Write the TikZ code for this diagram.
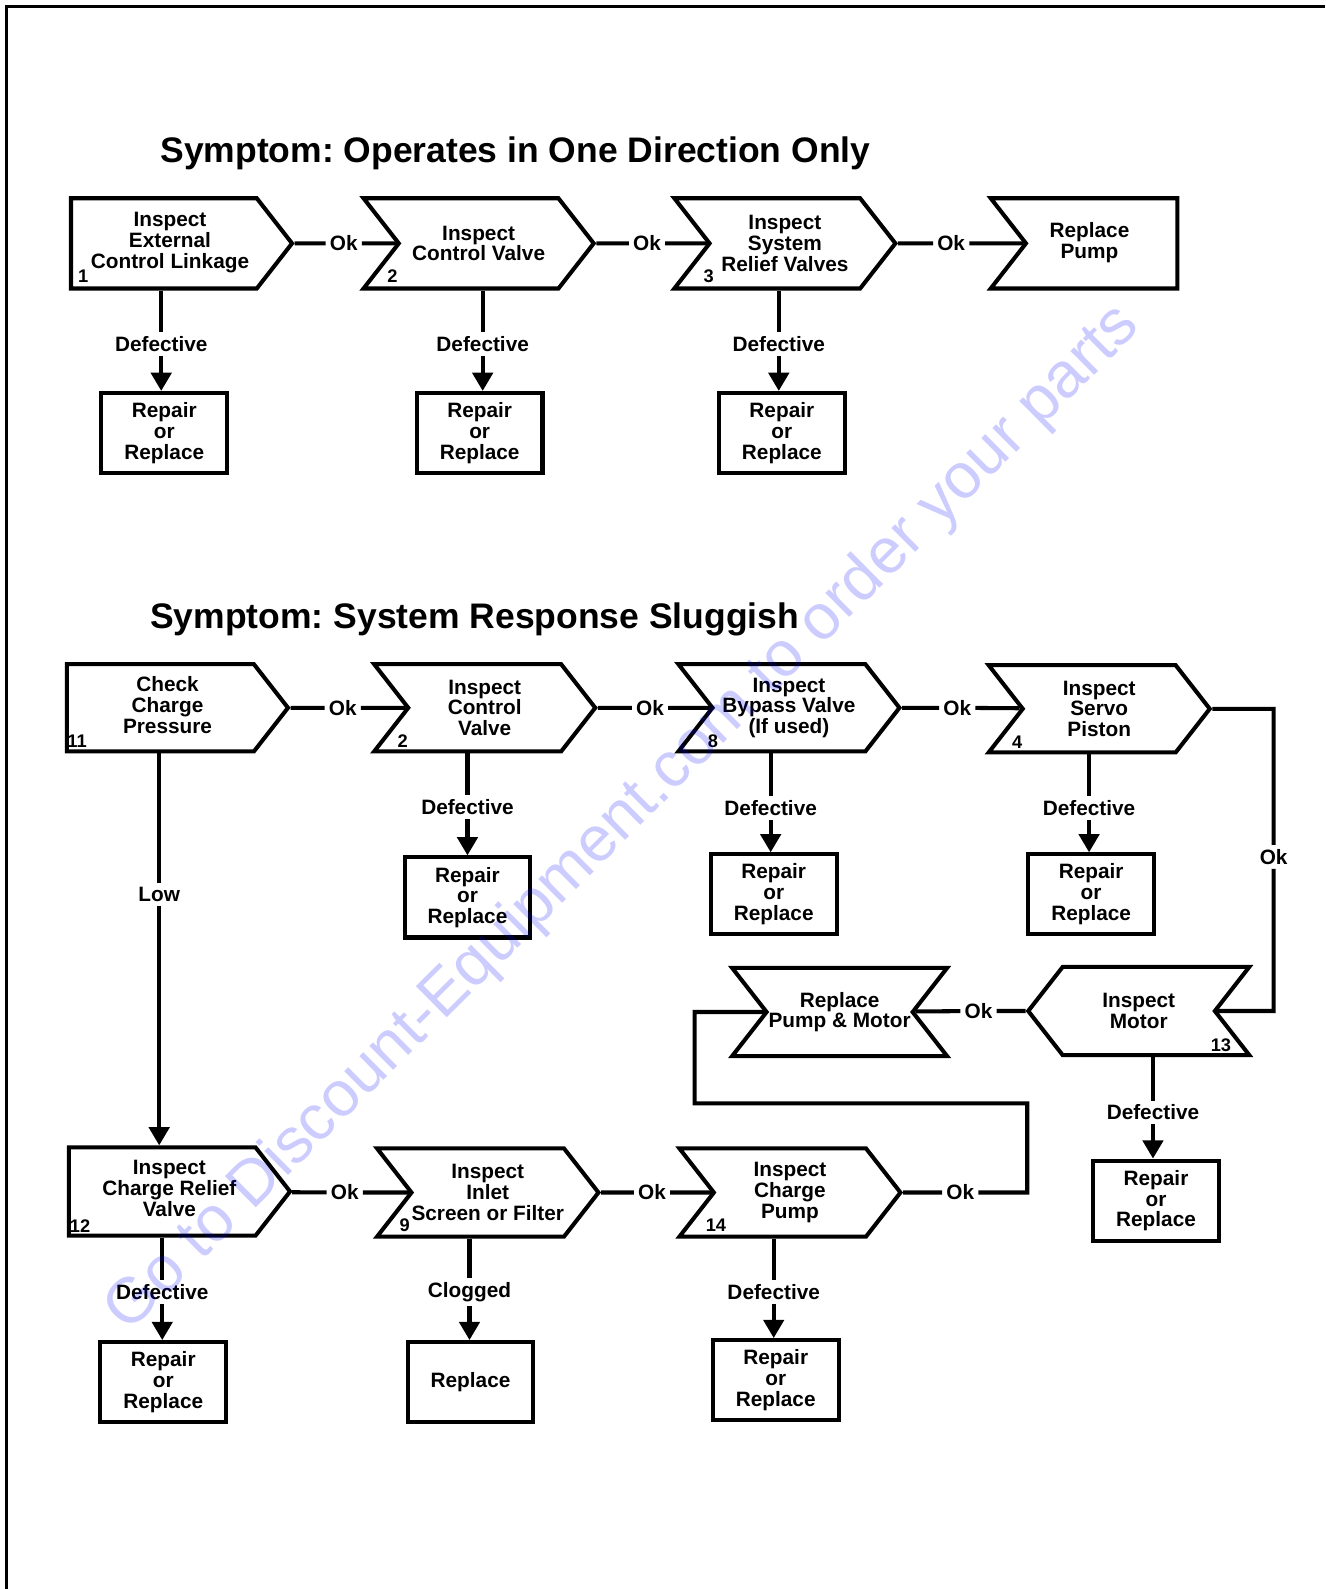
\documentclass[tikz,border=0pt]{standalone}
\usepackage{fontspec}
\setmainfont{Liberation Sans}
\frenchspacing
\usetikzlibrary{shapes.symbols,arrows.meta,positioning}

\newcommand{\lpad}[2]{\begin{tabular}{@{\hspace{#1}}c@{}}#2\end{tabular}}
\newcommand{\rpad}[2]{\begin{tabular}{@{}c@{\hspace{#1}}}#2\end{tabular}}

\tikzset{
  base/.style={draw, line width=4pt, fill=white, align=center, inner sep=0pt,
    font=\fontsize{20.5}{20.5}\selectfont\bfseries},
  sig/.style={base, shape=signal, signal pointer angle=104,
    minimum width=218pt, minimum height=87pt},
  chevron/.style={sig, signal from=west, signal to=east},
  startbox/.style={sig, signal to=east},
  endbox/.style={sig, signal from=west, signal to=nowhere},
  backchevron/.style={sig, signal from=east, signal to=west},
  bowtie/.style={sig, signal from=west and east, signal to=nowhere},
  fixbox/.style={base, rectangle, minimum width=124pt, minimum height=79pt},
  lbl/.style={fill=white, inner sep=4pt, font=\fontsize{20.5}{20.5}\selectfont\bfseries},
  num/.style={inner sep=0pt, font=\fontsize{18}{18}\selectfont\bfseries},
  title/.style={anchor=base west, inner sep=0pt, font=\fontsize{35}{40}\selectfont\bfseries},
  conn/.style={line width=4pt},
  arr/.style={line width=4pt, -{Triangle[width=20pt,length=18pt]}},
}

\begin{document}
\begin{tikzpicture}[x=1pt,y=-1pt]
    \useasboundingbox (0,0) rectangle (1307,1567);
    \draw[line width=3pt] (6,1567) -- (6,6) -- (1307,6);

    \node[title] (t1) at (158,160) {Symptom: Operates in One Direction Only};
    \node[title] (t2) at (148,620) {Symptom: System Response Sluggish};

    % one direction only
    \node[startbox, minimum height=89pt, anchor=west] (s1) at (68,240) {\lpad{12pt}{Inspect\\External\\Control Linkage}};
    \node[chevron, minimum height=89pt, minimum width=227pt] (s2) at (472,240) {Inspect\\Control Valve};
    \node[chevron, minimum height=89pt] (s3) at (774,240) {Inspect\\System\\Relief Valves};
    \node[endbox, minimum height=89pt, minimum width=184pt, anchor=east] (s4) at (1163,240) {\rpad{24pt}{Replace\\Pump}};

    \node[lbl] (ok1) at (339,240) {Ok};
    \node[lbl] (ok2) at (638,240) {Ok};
    \node[lbl] (ok3) at (938,240) {Ok};

    \node[lbl] (d1) at (159,339) {Defective};
    \node[lbl] (d2) at (476,339) {Defective};
    \node[lbl] (d3) at (768,339) {Defective};
    \node[fixbox] (r1) at (162,427) {Repair\\or\\Replace};
    \node[fixbox] (r2) at (473,427) {Repair\\or\\Replace};
    \node[fixbox] (r3) at (771,427) {Repair\\or\\Replace};

    % response sluggish
    \node[startbox, minimum height=86pt, anchor=west] (s11) at (64,698) {\lpad{14pt}{Check\\Charge\\Pressure}};
    \node[chevron, minimum height=86pt] (s2b) at (478,698) {Inspect\\Control\\Valve};
    \node[chevron, minimum height=86pt] (s8) at (778,698) {Inspect\\Bypass Valve\\(If used)};
    \node[chevron, minimum height=86pt] (s4b) at (1084,699) {Inspect\\Servo\\Piston};
    \node[backchevron] (s13) at (1123,997) {Inspect\\Motor};
    \node[bowtie, minimum width=212pt] (pm) at (828,998) {Replace\\Pump \& Motor};
    \node[startbox, anchor=west] (s12) at (66,1175) {\lpad{14pt}{Inspect\\Charge Relief\\Valve}};
    \node[chevron] (s9) at (481,1176) {Inspect\\Inlet\\Screen or Filter};
    \node[chevron] (s14) at (779,1176) {Inspect\\Charge\\Pump};

    \node[lbl] (ok4) at (338,698) {Ok};
    \node[lbl] (ok5) at (641,698) {Ok};
    \node[lbl] (ok6) at (944,698) {Ok};
    \node[lbl] (okr) at (1256,845) {Ok};
    \node[lbl] (okm) at (965,997) {Ok};
    \node[lbl] (ok7) at (340,1176) {Ok};
    \node[lbl] (ok8) at (643,1176) {Ok};
    \node[lbl] (ok9) at (947,1176) {Ok};
    \coordinate (c1) at (685,1088);
    \coordinate (c2) at (1013,1088);

    \node[lbl] (low) at (157,882) {Low};
    \node[lbl] (d2b) at (461,796) {Defective};
    \node[lbl] (d8) at (760,797) {Defective};
    \node[lbl] (d4b) at (1074,797) {Defective};
    \node[lbl] (d13) at (1137,1097) {Defective};
    \node[lbl] (d12) at (160,1274) {Defective};
    \node[lbl] (d9) at (463,1274) {Clogged};
    \node[lbl] (d14) at (763,1274) {Defective};
    \node[fixbox] (r4) at (461,885) {Repair\\or\\Replace};
    \node[fixbox] (r5) at (763,882) {Repair\\or\\Replace};
    \node[fixbox] (r6) at (1076,882) {Repair\\or\\Replace};
    \node[fixbox] (r13) at (1140,1184) {Repair\\or\\Replace};
    \node[fixbox] (r12) at (161,1363) {Repair\\or\\Replace};
    \node[fixbox] (r9) at (464,1363) {Replace};
    \node[fixbox] (r14) at (765,1361) {Repair\\or\\Replace};

    \node[num] (n1) at (82,272) {1};
    \node[num] (n2) at (387,272) {2};
    \node[num] (n3) at (699,272) {3};
    \node[num] (n11) at (76,731) {11};
    \node[num] (n2b) at (397,731) {2};
    \node[num] (n8) at (703,731) {8};
    \node[num] (n4b) at (1003,732) {4};
    \node[num] (n13) at (1204,1031) {13};
    \node[num] (n12) at (79,1209) {12};
    \node[num] (n9) at (399,1208) {9};
    \node[num] (n14) at (706,1208) {14};

    \foreach \from / \ok / \to in {s1/ok1/s2,s2/ok2/s3,s3/ok3/s4,s11/ok4/s2b,s2b/ok5/s8,
        s8/ok6/s4b,s13/okm/pm,s12/ok7/s9,s9/ok8/s14}
        \draw[conn] (\from) -- (\ok) (\ok) -- (\to);

    \foreach \from / \lb / \to in {s1/d1/r1,s2/d2/r2,s3/d3/r3,s2b/d2b/r4,s8/d8/r5,s4b/d4b/r6,
        s13/d13/r13,s11/low/s12,s12/d12/r12,s9/d9/r9,s14/d14/r14}
        {
        \draw[conn] (\lb |- \from.south) -- (\lb);
        \draw[arr] (\lb) -- (\lb |- \to.north);
        }

    \draw[conn] (s4b) -- (s4b -| okr) -- (okr);
    \draw[conn] (okr) -- (okr |- s13) -- (s13);
    \draw[conn] (s14) -- (ok9);
    \draw[conn] (ok9) -- (ok9 -| c2) -- (c2) -- (c1) -- (pm -| c1) -- (pm);

    \node[rotate=44.8, text=blue, opacity=0.2, inner sep=0pt,
        font=\fontsize{63}{63}\selectfont] (wm) at (615,808)
        {Go to Discount-Equipment.com to order your parts};
\end{tikzpicture}
\end{document}
